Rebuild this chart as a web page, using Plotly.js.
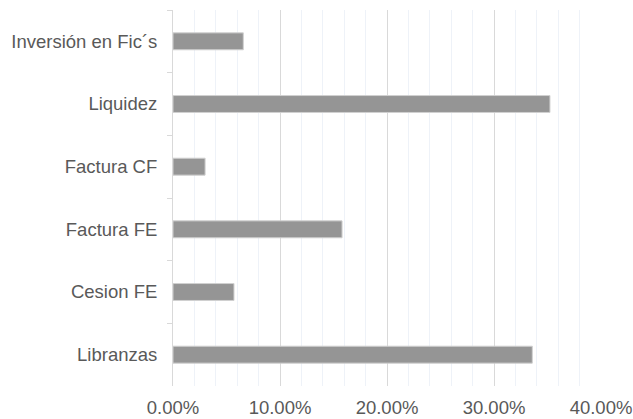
<!DOCTYPE html>
<html><head><meta charset="utf-8">
<script src="https://cdn.plot.ly/plotly-3.0.1.min.js"></script>
<style>html,body{margin:0;padding:0;background:#fff;}</style>
</head><body>
<div id="chart" style="width:633px;height:419px;"></div>
<script>
const categories = ["Inversión en Fic´s", "Liquidez", "Factura CF", "Factura FE", "Cesion FE", "Libranzas"];
const values = [0.0657, 0.3523, 0.030, 0.158, 0.057, 0.3358];
const xTicks = [0, 0.1, 0.2, 0.3, 0.4];

Plotly.newPlot('chart', [{
  type: 'bar',
  orientation: 'h',
  y: categories,
  x: values,
  width: 0.27,
  marker: {color: '#959595', line: {color: '#d0d0d0', width: 1}},
  hoverinfo: 'none'
}], {
  width: 633, height: 419,
  margin: {l: 173, r: 32, t: 10, b: 33},
  paper_bgcolor: '#fff', plot_bgcolor: '#fff',
  showlegend: false,
  font: {family: '"Liberation Sans", Arial, sans-serif', size: 18.5, color: '#595959'},
  xaxis: {
    range: [0, 0.4],
    tickvals: xTicks,
    tickformat: '.2%',
    showgrid: true, gridcolor: '#d9d9d9', gridwidth: 1,
    minor: {dtick: 0.02, tick0: 0, showgrid: true, gridcolor: '#eef2f8', gridwidth: 1},
    zeroline: false, showline: false, ticks: '',
    ticklabelstandoff: 8,
    fixedrange: true
  },
  yaxis: {
    type: 'category',
    categoryorder: 'array', categoryarray: categories,
    autorange: 'reversed',
    showline: true, linecolor: '#d9d9d9', linewidth: 1,
    ticks: 'outside', ticklen: 5, tickcolor: '#d9d9d9', tickson: 'boundaries',
    showgrid: false, zeroline: false,
    ticklabelstandoff: 11,
    fixedrange: true
  }
}, {displayModeBar: false, staticPlot: true});
</script>
</body></html>
